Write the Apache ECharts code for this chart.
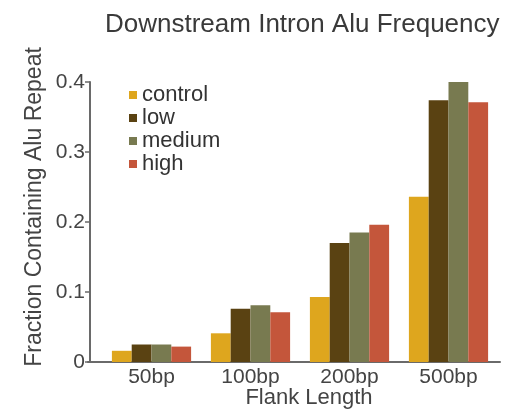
<!DOCTYPE html>
<html>
<head>
<meta charset="utf-8">
<script src="https://cdn.jsdelivr.net/npm/echarts@6/dist/echarts.min.js"></script>
<style>html,body{margin:0;padding:0;background:#fff;}#c{width:516px;height:412px;}</style>
</head>
<body>
<div id="c"></div>
<script>
const categories = ['50bp', '100bp', '200bp', '500bp'];
const seriesNames = ['control', 'low', 'medium', 'high'];
const control = [0.016, 0.041, 0.093, 0.236];
const low = [0.025, 0.076, 0.170, 0.374];
const medium = [0.025, 0.081, 0.185, 0.400];
const high = [0.022, 0.071, 0.196, 0.371];
const colors = ['#DEA61E', '#5A4212', '#787A50', '#C4563B'];
const yTicks = { min: 0, max: 0.4, interval: 0.1 };

const FONT = 'Liberation Sans, Arial, sans-serif';
const chart = echarts.init(document.getElementById('c'), null, { renderer: 'canvas' });
const values = [control, low, medium, high];

chart.setOption({
  animation: false,
  backgroundColor: '#ffffff',
  title: {
    text: 'Downstream Intron Alu Frequency',
    left: 100, top: 7,
    textStyle: { fontFamily: FONT, fontSize: 26, fontWeight: 'normal', color: '#3a3a3a' }
  },
  legend: {
    orient: 'vertical', left: 124, top: 79,
    itemWidth: 8, itemHeight: 8, itemGap: 1,
    icon: 'rect',
    data: seriesNames,
    textStyle: { fontFamily: FONT, fontSize: 22, color: '#333', lineHeight: 22 }
  },
  grid: [
    { left: 102, right: 18, top: 82, bottom: 50 },
    { left: 88, right: 16, top: 82, bottom: 50 }
  ],
  xAxis: [
    {
      type: 'category', gridIndex: 0, data: categories,
      axisLine: { show: false }, axisTick: { show: false },
      axisLabel: { fontFamily: FONT, fontSize: 21, color: '#444', margin: 5 }
    },
    {
      type: 'value', gridIndex: 1, min: 0, max: 1,
      axisLine: { show: true, lineStyle: { color: '#6a6a6a', width: 2 } },
      axisTick: { show: false }, axisLabel: { show: false }, splitLine: { show: false }
    }
  ],
  yAxis: [
    {
      type: 'value', gridIndex: 0, min: yTicks.min, max: yTicks.max, interval: yTicks.interval,
      offset: 12,
      axisLine: { show: true, lineStyle: { color: '#6a6a6a', width: 2 } },
      axisTick: { show: true, length: 5, lineStyle: { color: '#6a6a6a', width: 1.5 } },
      axisLabel: { fontFamily: FONT, fontSize: 21, color: '#444', margin: 5 },
      splitLine: { show: false }
    },
    { type: 'value', gridIndex: 1, show: false, min: 0, max: 1 }
  ],
  graphic: [
    {
      type: 'text', x: 35, y: 207, rotation: Math.PI / 2,
      style: {
        text: 'Fraction Containing Alu Repeat', fontFamily: FONT, fontSize: 23,
        fill: '#444', align: 'center', verticalAlign: 'middle'
      }
    },
    {
      type: 'text', x: 309, y: 398,
      style: {
        text: 'Flank Length', fontFamily: FONT, fontSize: 22,
        fill: '#444', align: 'center', verticalAlign: 'middle'
      }
    }
  ],
  series: seriesNames.map((n, i) => ({
    name: n, type: 'bar', xAxisIndex: 0, yAxisIndex: 0,
    data: values[i], barWidth: 19.8, barGap: '0%',
    itemStyle: { color: colors[i] }
  }))
});
</script>
</body>
</html>
